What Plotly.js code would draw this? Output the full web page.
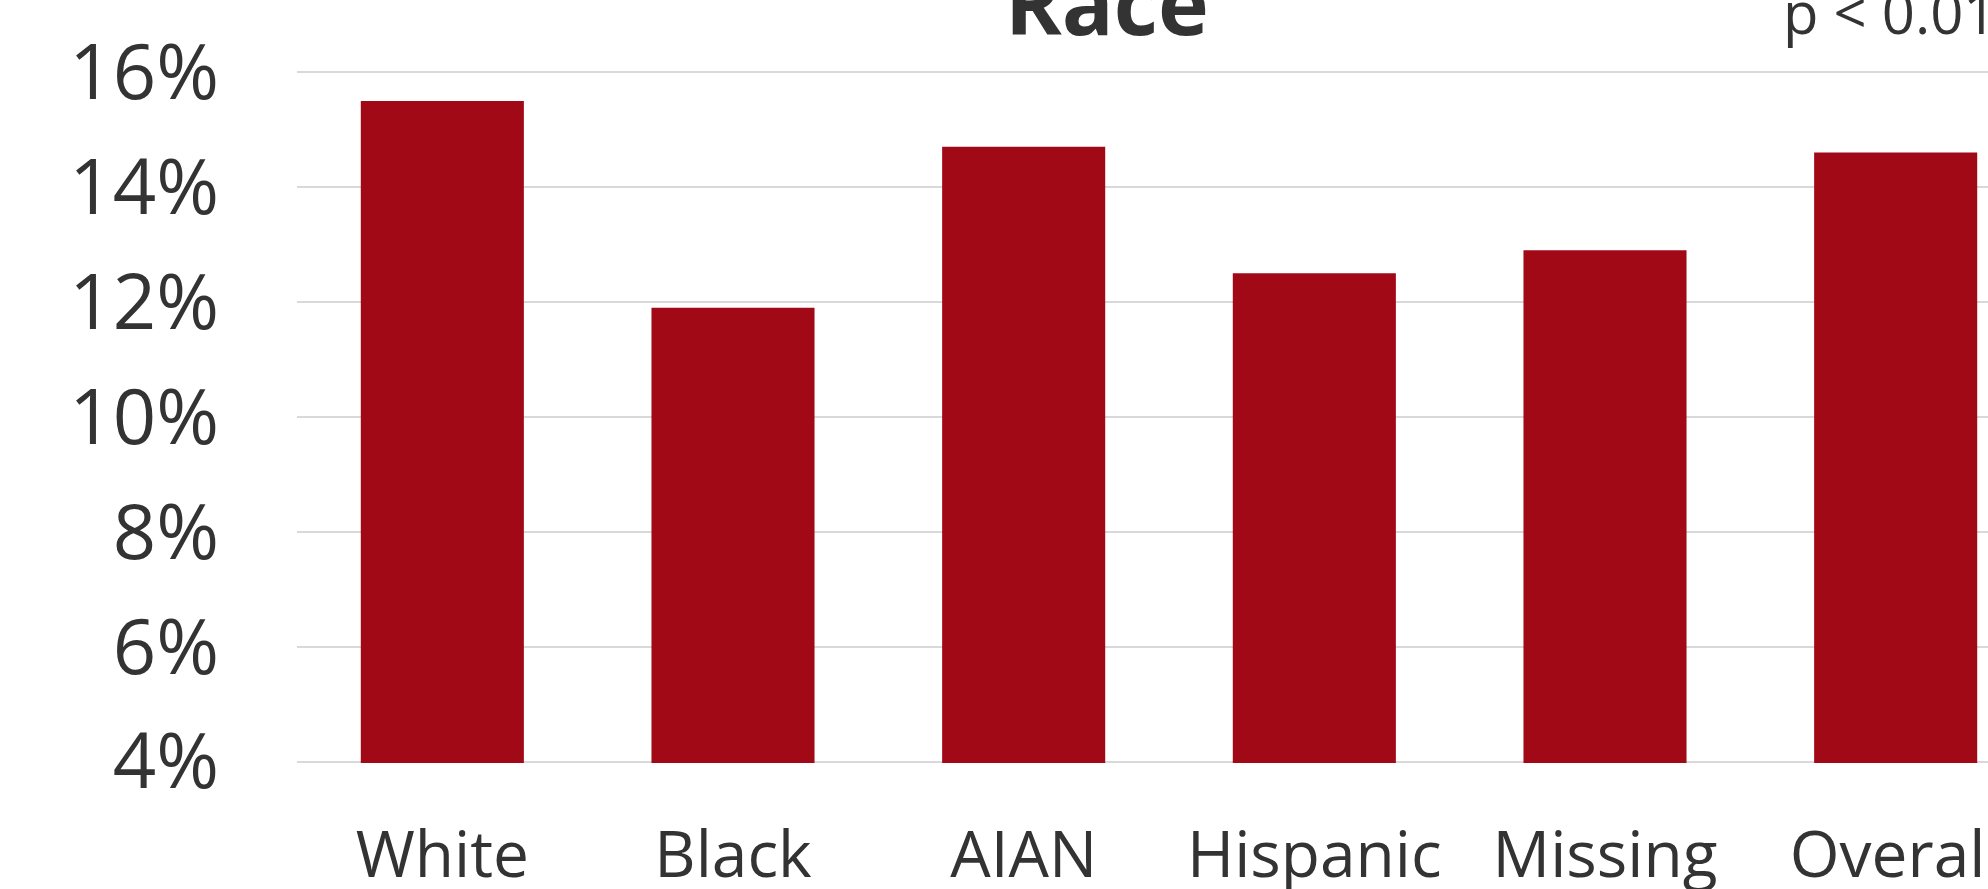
<!DOCTYPE html>
<html>
<head>
<meta charset="utf-8">
<script src="https://cdn.plot.ly/plotly-3.0.1.min.js"></script>
<style>
  html, body { margin: 0; padding: 0; overflow: hidden; background: #ffffff; }
  #chart { position: absolute; left: 0; top: -60px; }
</style>
</head>
<body>
<div id="chart"></div>
<script>
// Share of each group, in percent
const categories = ['White', 'Black', 'AIAN', 'Hispanic', 'Missing', 'Overall'];
const rates = [15.5, 11.9, 14.7, 12.5, 12.9, 14.6];
const yTicks = [4, 6, 8, 10, 12, 14, 16];
const chartTitle = 'Race';
const pValueNote = 'p < 0.01';

const FONT = '"Open Sans", "Noto Sans", sans-serif';
const TEXT = '#333333';

// Figure size and plot-area edges, in pixels
// (the value axis runs a hair past 4% and 16% so both end gridlines are drawn)
const figW = 2100, figH = 949;
const plotLeft = 296.7, plotRight = 2041.4, plotTop = 130.55, plotBottom = 822.85;

const trace = {
  type: 'bar',
  x: categories,
  y: rates,
  marker: { color: '#A20917', line: { width: 0 } },
  hovertemplate: '%{x}: %{y}%<extra></extra>'
};

const layout = {
  width: figW,
  height: figH,
  margin: { l: plotLeft, r: figW - plotRight, t: plotTop, b: figH - plotBottom, pad: 0 },
  paper_bgcolor: '#ffffff',
  plot_bgcolor: '#ffffff',
  showlegend: false,
  bargap: 0.439,
  font: { family: FONT, color: TEXT },
  xaxis: {
    type: 'category',
    showgrid: false,
    showline: false,
    zeroline: false,
    ticks: '',
    ticklabelstandoff: 49,
    tickfont: { family: FONT, size: 64, color: TEXT }
  },
  yaxis: {
    range: [3.98, 16.02],
    tickmode: 'array',
    tickvals: yTicks,
    ticktext: yTicks.map(v => v + '%'),
    showgrid: true,
    gridcolor: '#d9d9d9',
    gridwidth: 2,
    zeroline: false,
    showline: false,
    ticks: '',
    ticklabelstandoff: 77,
    tickfont: { family: FONT, size: 76, color: TEXT }
  },
  annotations: [
    {
      text: '<b>' + chartTitle + '</b>',
      xref: 'paper', yref: 'paper',
      x: 0.4645, y: 1.0135,
      xanchor: 'center', yanchor: 'bottom',
      showarrow: false,
      font: { family: FONT, size: 86, color: TEXT }
    },
    {
      text: pValueNote,
      xref: 'paper', yref: 'paper',
      x: 0.8508, y: 1.0265,
      xanchor: 'left', yanchor: 'bottom',
      showarrow: false,
      font: { family: FONT, size: 58, color: TEXT }
    }
  ]
};

Plotly.newPlot('chart', [trace], layout, { displayModeBar: false, staticPlot: true });
</script>
</body>
</html>
